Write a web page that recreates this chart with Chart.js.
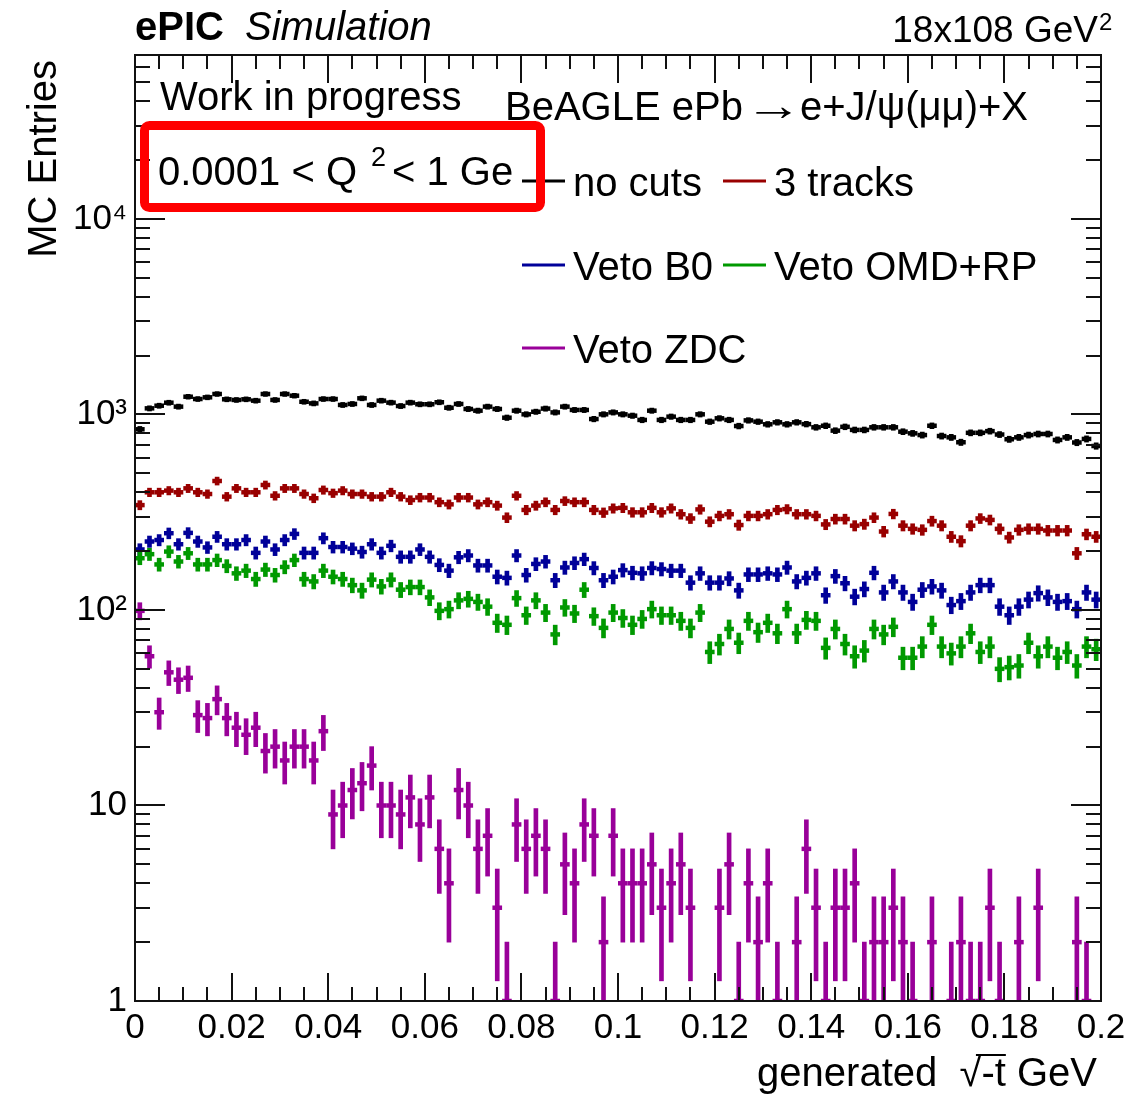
<!DOCTYPE html>
<html><head><meta charset="utf-8">
<script src="https://cdn.jsdelivr.net/npm/chart.js@4.4.0/dist/chart.umd.min.js"></script>
<style>html,body{margin:0;padding:0;background:#fff;}canvas{display:block;}</style>
</head><body>
<canvas id="c" width="1132" height="1097"></canvas>
<script>
const FONT = "'Liberation Sans', Arial, Helvetica, sans-serif";
const binWidth = 0.002;
const nBins = 100;

const noCuts = [840,1075,1109,1149,1097,1233,1200,1224,1273,1196,1187,1196,1177,1273,1187,1273,1248,1162,1140,1200,
1200,1119,1132,1210,1119,1177,1150,1105,1150,1128,1128,1155,1083,1132,1067,1046,1097,1067,963,1046,
1002,1033,1072,1025,1097,1055,1055,948,1002,1025,1002,986,938,1046,938,975,938,938,1002,919,
956,938,873,933,919,891,912,891,912,893,860,876,827,865,834,834,860,860,860,817,
801,785,876,776,764,721,806,806,822,790,747,764,785,795,795,741,764,719,750,690];

const threeTracks = [344,400,400,408,400,419,400,392,457,380,419,400,400,436,384,419,419,392,373,411,
396,408,392,392,380,380,400,380,365,376,376,356,347,376,376,347,356,342,297,384,
325,342,356,325,361,356,356,325,315,331,333,316,316,333,316,331,309,294,327,283,
303,309,272,303,303,309,325,328,309,309,303,274,292,292,270,275,297,252,310,270,
260,257,285,270,237,225,270,294,289,260,235,257,260,260,255,255,255,195,244,237];

const vetoB0 = [204,224,228,247,217,248,224,209,237,217,217,228,196,224,204,228,245,196,196,233,
210,210,206,198,217,196,213,187,187,204,187,170,159,186,190,169,169,148,146,190,
151,172,177,142,165,174,182,164,142,148,160,155,154,164,162,159,159,138,154,138,
138,145,126,152,152,154,152,165,140,146,154,119,149,137,117,128,155,123,140,123,
110,127,132,126,106,111,123,134,134,104,94,104,113,122,116,110,111,101,123,113];

const vetoOMDRP = [184,193,171,199,177,195,171,171,180,168,154,159,144,161,151,166,180,144,140,159,
148,144,134,126,143,132,143,127,131,131,116,99,101,112,114,110,104,86,84,115,
94,112,97,75,103,96,127,93,81,97,91,84,90,101,94,94,88,81,97,61,
67,80,68,88,77,86,76,101,76,89,88,64,80,67,58,62,80,75,82,57,
57,65,84,65,60,65,76,61,65,50,51,52,68,58,65,57,61,52,65,63];

const vetoZDC = [99,58,30,48,44,45,29,28,35,28,25,23,25,19,20,17,20,20,17,24,
9,10,12,13,16,10,10,9,11,8,11,6,4,12,10,6,7,3,1,8,
6,7,6,1,5,4,8,7,2,7,4,4,4,5,3,4,5,3,null,null,
3,5,1,4,2,4,1,null,2,6,3,1,3,3,4,1,2,2,3,2,
1,null,2,null,1,2,1,1,3,1,null,2,null,3,null,null,null,2,1,null];

const seriesNames = ["no cuts","3 tracks","Veto B0","Veto OMD+RP","Veto ZDC"];
const seriesColors = ["#000000","#990000","#000099","#009900","#990099"];
const seriesValues = [noCuts, threeTracks, vetoB0, vetoOMDRP, vetoZDC];

const xTickValues = [0,0.02,0.04,0.06,0.08,0.1,0.12,0.14,0.16,0.18,0.2];
const xTickLabels = ["0","0.02","0.04","0.06","0.08","0.1","0.12","0.14","0.16","0.18","0.2"];
const yTickValues = [1,10,100,1000,10000];
const yTickLabels = ["1","10","10\u00B2","10\u00B3","10\u2074"];
const yMin = 1, yMax = 69000;

const binCenters = Array.from({length: nBins}, (_, i) => (i + 0.5) * binWidth);

function halfBinPx(ctx) {
  const s = ctx.chart.scales.x;
  return (s.getPixelForValue(binWidth) - s.getPixelForValue(0)) / 2;
}

const datasets = [];
seriesValues.forEach((vals, k) => {
  const col = seriesColors[k];
  const ord = 5 - k;
  datasets.push({
    type: 'bar',
    label: seriesNames[k] + ' err',
    data: vals.map((v, i) => ({x: binCenters[i], y: v == null ? null : [Math.max(v - Math.sqrt(v), 0.05), v + Math.sqrt(v)]})),
    backgroundColor: col, borderWidth: 0, barThickness: 4, grouped: false,
    order: ord, clip: 0
  });
  datasets.push({
    type: 'line',
    label: seriesNames[k],
    data: vals.map((v, i) => ({x: binCenters[i], y: v})),
    showLine: false, pointStyle: 'line',
    pointRadius: halfBinPx, pointHoverRadius: halfBinPx,
    pointBorderWidth: 4.5, pointHoverBorderWidth: 4.5,
    pointBorderColor: col, pointBackgroundColor: col,
    borderColor: col, order: ord, clip: 0
  });
});

const rootStyle = {
  id: 'rootStyle',
  afterDraw(chart) {
    const ctx = chart.ctx, a = chart.chartArea, xs = chart.scales.x, ys = chart.scales.y;
    ctx.save();
    // frame
    ctx.strokeStyle = '#111'; ctx.lineWidth = 2;
    ctx.strokeRect(a.left, a.top, a.right - a.left, a.bottom - a.top);
    ctx.lineWidth = 2;
    ctx.beginPath();
    for (let k = 0; k <= 40; k++) {
      const v = k * 0.005;
      const px = Math.round(xs.getPixelForValue(v));
      const len = (k % 4 === 0) ? 28 : 14;
      ctx.moveTo(px, a.bottom); ctx.lineTo(px, a.bottom - len);
      ctx.moveTo(px, a.top); ctx.lineTo(px, a.top + len);
    }
    for (let d = 0; d <= 4; d++) {
      for (let m = 1; m <= 9; m++) {
        const v = m * Math.pow(10, d);
        if (v > yMax) break;
        const py = Math.round(ys.getPixelForValue(v));
        const len = m === 1 ? 30 : 15;
        ctx.moveTo(a.left, py); ctx.lineTo(a.left + len, py);
        ctx.moveTo(a.right, py); ctx.lineTo(a.right - len, py);
      }
    }
    ctx.stroke();

    ctx.fillStyle = '#000';
    ctx.textBaseline = 'alphabetic';
    // header
    ctx.textAlign = 'left';
    ctx.font = 'bold 40px ' + FONT;
    ctx.fillText('ePIC', 135, 40);
    ctx.font = 'italic 40px ' + FONT;
    ctx.fillText('Simulation', 245, 40);
    ctx.font = '37px ' + FONT;
    ctx.textAlign = 'right';
    ctx.fillText('18x108 GeV', 1098, 42);
    ctx.font = '24px ' + FONT;
    ctx.textAlign = 'left';
    ctx.fillText('2', 1099, 30);

    ctx.font = '40px ' + FONT;
    ctx.fillText('Work in progress', 160, 110);
    // BeAGLE line with a wide arrow
    const t1 = 'BeAGLE ePb', t2 = 'e+J/\u03C8(\u03BC\u03BC)+X';
    ctx.fillText(t1, 505, 120);
    const endPb = 505 + ctx.measureText(t1).width;
    const xE = 1028 - ctx.measureText(t2).width;
    ctx.fillText(t2, xE, 120);
    ctx.save();
    ctx.translate((endPb + xE) / 2 + 2, 120); ctx.scale(1.45, 1.1);
    ctx.textAlign = 'center';
    ctx.fillText('\u2192', 0, 0);
    ctx.restore();

    // Q2 label
    ctx.fillText('0.0001 < Q', 158, 185);
    ctx.font = '27px ' + FONT;
    ctx.fillText('2', 371, 166);
    ctx.font = '40px ' + FONT;
    ctx.fillText('< 1 GeV', 392, 185);

    // legend box (white fill)
    ctx.fillStyle = '#fff';
    ctx.fillRect(513, 145, 547, 240);
    ctx.fillStyle = '#000';
    const rows = [[0, 1], [2, 3], [4]];
    const colX = [522, 723];
    const rowY = [181, 265, 348];
    rows.forEach((r, ri) => {
      r.forEach((si, ci) => {
        ctx.strokeStyle = seriesColors[si]; ctx.lineWidth = 3;
        ctx.beginPath(); ctx.moveTo(colX[ci], rowY[ri]); ctx.lineTo(colX[ci] + 43, rowY[ri]); ctx.stroke();
        ctx.fillStyle = '#000';
        ctx.font = '40px ' + FONT;
        ctx.fillText(seriesNames[si], colX[ci] + 51, rowY[ri] + 15);
      });
    });

    // red annotation box
    ctx.strokeStyle = '#ff0000'; ctx.lineWidth = 9;
    ctx.beginPath();
    if (ctx.roundRect) ctx.roundRect(144.5, 125.5, 396, 82, 5); else ctx.rect(144.5, 125.5, 396, 82);
    ctx.stroke();

    // axis titles
    ctx.fillStyle = '#000';
    ctx.font = '40px ' + FONT;
    ctx.save();
    ctx.translate(56, 60); ctx.rotate(-Math.PI / 2);
    ctx.textAlign = 'right';
    ctx.fillText('MC Entries', 0, 0);
    ctx.restore();

    ctx.textAlign = 'left';
    const p1 = 'generated  ', p2 = '\u221A', p3 = '-t', p4 = ' GeV';
    const w1 = ctx.measureText(p1).width, w2 = ctx.measureText(p2).width, w3 = ctx.measureText(p3).width, w4 = ctx.measureText(p4).width;
    const x0 = 1097 - (w1 + w2 + w3 + w4), by = 1086;
    ctx.fillText(p1, x0, by);
    ctx.fillText(p2, x0 + w1, by);
    ctx.fillText(p3, x0 + w1 + w2, by);
    ctx.fillText(p4, x0 + w1 + w2 + w3, by);
    ctx.strokeStyle = '#000'; ctx.lineWidth = 2;
    ctx.beginPath();
    ctx.moveTo(x0 + w1 + w2 * 0.75, by - 31); ctx.lineTo(x0 + w1 + w2 + w3, by - 31);
    ctx.stroke();
    ctx.restore();
  }
};

Chart.defaults.font.family = FONT;
new Chart(document.getElementById('c'), {
  type: 'line',
  data: {datasets},
  options: {
    responsive: false, animation: false, devicePixelRatio: 1, events: [],
    layout: {padding: {top: 55, right: 31, left: 0, bottom: 0}},
    plugins: {legend: {display: false}, tooltip: {enabled: false}},
    scales: {
      x: {
        type: 'linear', min: 0, max: 0.2, offset: false,
        grid: {display: false, drawTicks: false, offset: false}, border: {display: false},
        afterBuildTicks: s => { s.ticks = xTickValues.map(v => ({value: v})); },
        afterFit: s => { s.height = 96; },
        ticks: {autoSkip: false, maxRotation: 0, minRotation: 0, padding: 6, color: '#000',
          font: {size: 35, family: FONT}, callback: (v, i) => xTickLabels[i]}
      },
      y: {
        type: 'logarithmic', min: yMin, max: yMax,
        grid: {display: false, drawTicks: false}, border: {display: false},
        afterBuildTicks: s => { s.ticks = yTickValues.map(v => ({value: v})); },
        afterFit: s => { s.width = 135; },
        ticks: {autoSkip: false, padding: 8, color: '#000',
          font: {size: 35, family: FONT}, callback: (v, i) => yTickLabels[i]}
      }
    }
  },
  plugins: [rootStyle]
});
</script>
</body></html>
